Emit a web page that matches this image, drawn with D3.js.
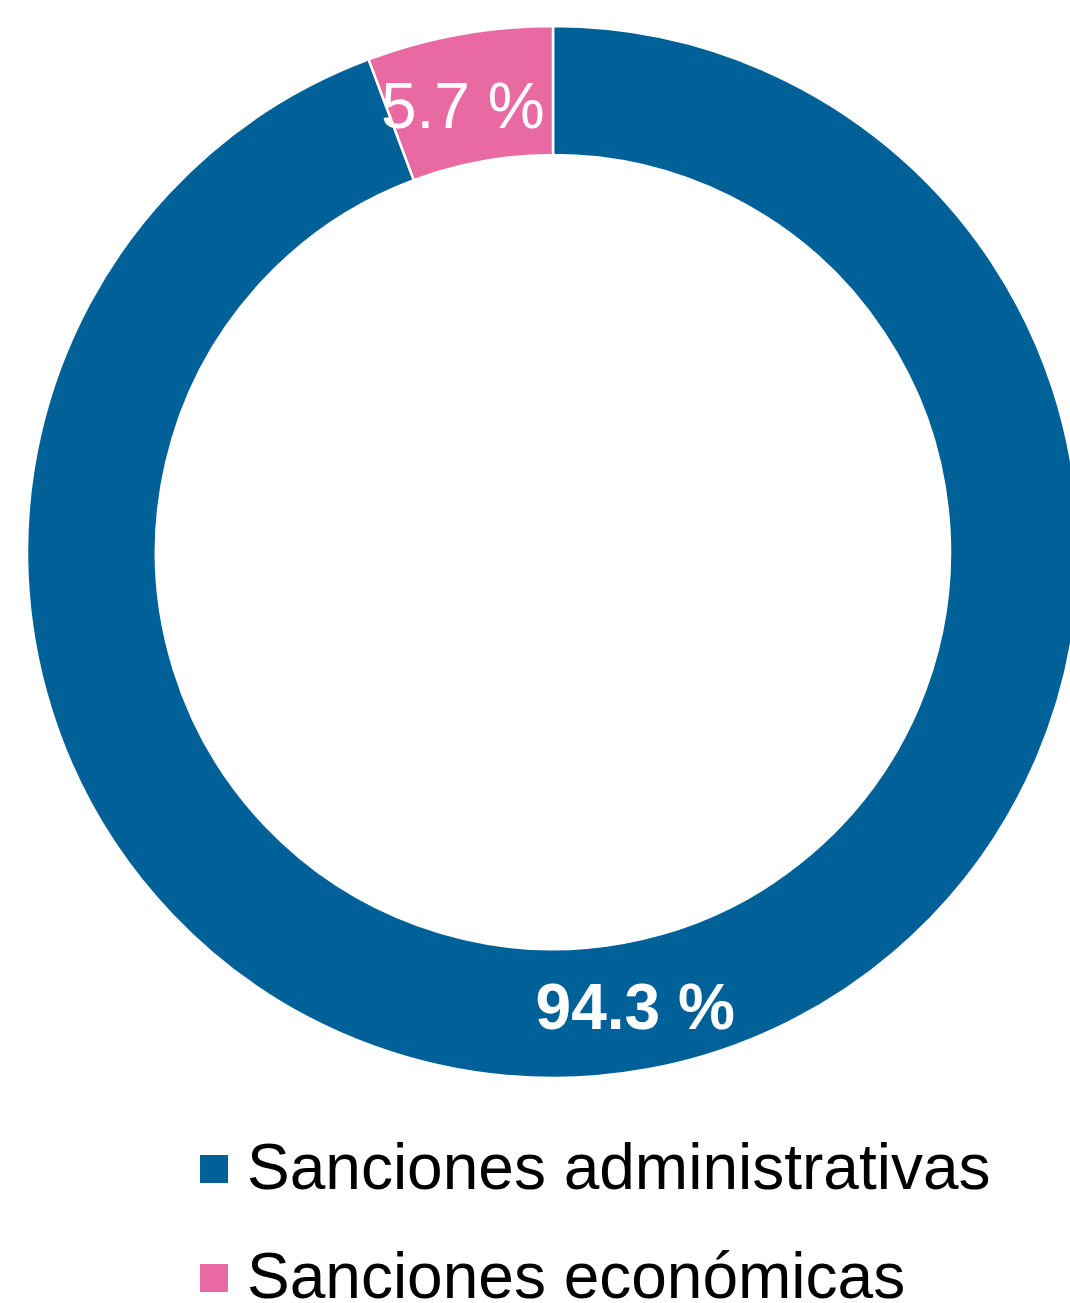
<!DOCTYPE html>
<html>
<head>
<meta charset="utf-8">
<script src="https://cdn.jsdelivr.net/npm/d3@7"></script>
<style>
  body { margin: 0; background: #fff; }
  svg { display: block; font-family: "Liberation Sans", Arial, sans-serif; }
</style>
</head>
<body>
<svg width="1070" height="1303"></svg>
<script>
const categories = ["Sanciones administrativas", "Sanciones económicas"];
const values = [94.3, 5.7];
const labels = ["94.3 %", "5.7 %"];
const colors = ["#006098", "#e96aa2"];

const svg = d3.select("svg");
const cx = 553, cy = 552,
      outerR = 526, innerR = 397;

const pie = d3.pie().sort(null).value(d => d.value);
const arcs = pie(categories.map((c, i) => ({ name: c, value: values[i], label: labels[i] })));

const arc = d3.arc().innerRadius(innerR).outerRadius(outerR);

const g = svg.append("g").attr("transform", `translate(${cx},${cy})`);

g.selectAll("path")
  .data(arcs)
  .enter()
  .append("path")
  .attr("d", arc)
  .attr("fill", (d, i) => colors[i])
  .attr("stroke", "#fff")
  .attr("stroke-width", 2.5);

// slice labels (small slice label nudged a bit like the original)
g.selectAll("text")
  .data(arcs)
  .enter()
  .append("text")
  .attr("transform", (d, i) => {
    const [x, y] = arc.centroid(d);
    return i === 1 ? `translate(${x - 8},${y + 7})` : `translate(${x},${y})`;
  })
  .attr("text-anchor", "middle")
  .attr("dy", "0.36em")
  .attr("fill", "#fff")
  .attr("font-size", 64)
  .attr("font-weight", (d, i) => i === 0 ? "bold" : "normal")
  .text(d => d.data.label);

// legend
const legend = svg.append("g").attr("transform", "translate(200,1155)");
const item = legend.selectAll("g")
  .data(categories)
  .enter()
  .append("g")
  .attr("transform", (d, i) => `translate(0,${i * 109})`);

item.append("rect")
  .attr("width", 28)
  .attr("height", 28)
  .attr("fill", (d, i) => colors[i]);

item.append("text")
  .attr("x", 47)
  .attr("y", 34)
  .attr("font-size", 64)
  .attr("fill", "#000")
  .text(d => d);
</script>
</body>
</html>
